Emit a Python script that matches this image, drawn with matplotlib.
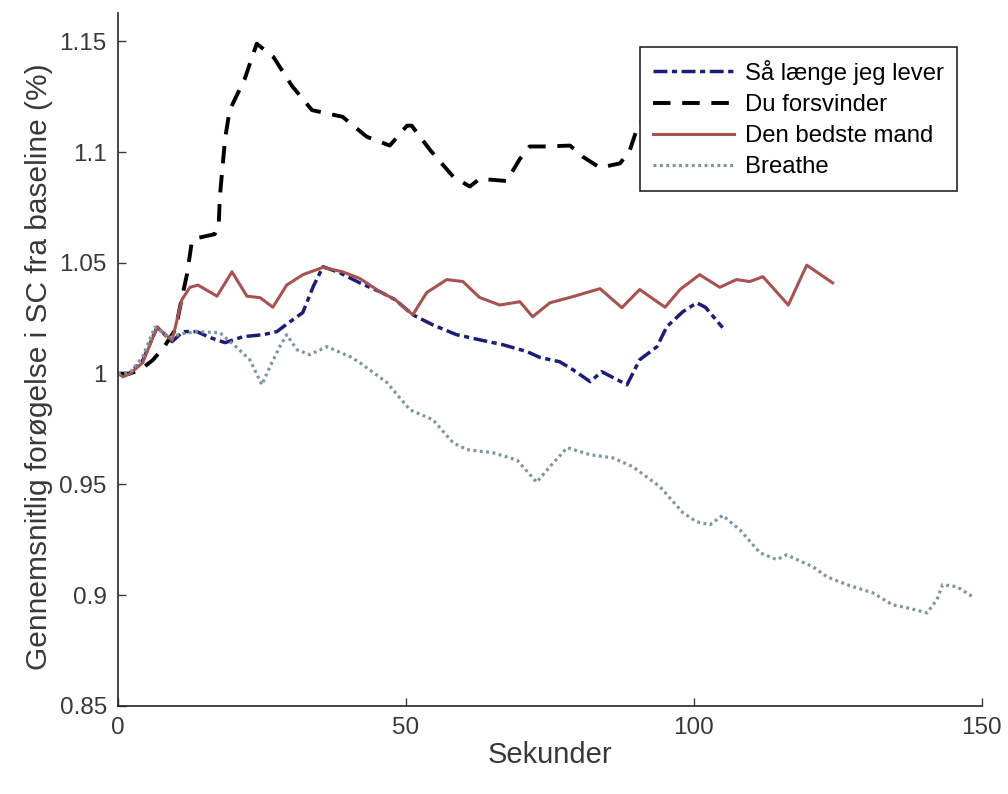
import matplotlib
matplotlib.use("Agg")
import matplotlib.pyplot as plt

plt.rcParams['font.family'] = ['Liberation Sans', 'DejaVu Sans']

# Så længe jeg lever
t_lever = [0, 2, 4.3, 6.8, 9.4, 11.3, 13.7, 16, 18.6, 21.7, 25.2, 27.6, 29.9, 32.1,
           33.9, 35.6, 38.5, 42, 45.5, 48.1, 51.2, 54.7, 58.8, 62.8, 66.8, 71,
           73.3, 76.7, 79, 82, 84, 88.4, 90.6, 93.6, 95.3, 98.1, 100.5, 102, 105]
v_lever = [1.0, 1.0, 1.006, 1.021, 1.0145, 1.019, 1.019, 1.0163, 1.014, 1.0167,
           1.0176, 1.019, 1.0235, 1.0276, 1.0393, 1.0483, 1.0456, 1.041, 1.037,
           1.0335, 1.0266, 1.022, 1.0176, 1.0153, 1.0131, 1.010, 1.0073, 1.0054,
           1.0018, 0.9964, 1.0009, 0.995, 1.0063, 1.0122, 1.0212, 1.028, 1.032,
           1.030, 1.0208]

# Du forsvinder
t_forsv = [0, 2, 4, 6, 8, 10, 11, 12, 12.8, 13.4, 16.8, 17.5, 17.7, 18.6, 19.4,
           22, 24.1, 27, 30.2, 33.7, 39, 43.2, 47.2, 50.2, 51, 54.2, 58.2, 61.1,
           62.8, 67.5, 69.8, 71.5, 74.5, 78.5, 80.7, 83.7, 87.2, 88.9, 90.3, 93,
           97, 102, 105]
v_forsv = [1.0, 1.0, 1.002, 1.006, 1.012, 1.02, 1.033, 1.045, 1.059, 1.061, 1.063,
           1.067, 1.08, 1.106, 1.119, 1.133, 1.149, 1.143, 1.130, 1.119, 1.116,
           1.107, 1.103, 1.112, 1.112, 1.101, 1.089, 1.0845, 1.088, 1.087, 1.097,
           1.1026, 1.1026, 1.103, 1.098, 1.093, 1.095, 1.101, 1.112, 1.12, 1.118,
           1.115, 1.113]

# Den bedste mand
t_mand = [0, 0.9, 2.1, 4.3, 6.8, 9.4, 11.1, 12.5, 13.9, 17.2, 19.8, 22.4, 24.7,
          26.9, 29.3, 32.1, 35.6, 39, 42, 45.5, 48.1, 51.2, 53.6, 57.1, 59.9,
          62.8, 66.3, 69.8, 72, 75, 79, 83.7, 87.5, 90.6, 95, 97.6, 101, 104.5,
          107.4, 109.7, 112, 116.4, 119.6, 124.1]
v_mand = [1.0, 0.9986, 1.0, 1.005, 1.021, 1.015, 1.0334, 1.039, 1.040, 1.035,
          1.046, 1.035, 1.0343, 1.030, 1.040, 1.0447, 1.048, 1.046, 1.043, 1.037,
          1.0335, 1.0266, 1.0366, 1.0425, 1.0416, 1.0344, 1.031, 1.0325, 1.0257,
          1.032, 1.0348, 1.0384, 1.0298, 1.038, 1.030, 1.038, 1.0447, 1.039,
          1.0425, 1.0416, 1.0438, 1.031, 1.049, 1.041]

# Breathe
t_breathe = [0, 2.1, 4.3, 6.4, 9, 11, 13.7, 17.7, 20.7, 22.9, 25, 26.4, 28.1, 29.3,
             31.1, 33.3, 36.3, 40.3, 42, 46.7, 50.7, 54.7, 58.2, 60.6, 65.1, 69.3,
             72.7, 75, 78, 82, 85.9, 89.4, 94.1, 98.1, 100.5, 102.8, 105, 108,
             111.5, 114.4, 116.1, 120.7, 123.1, 126.6, 131.1, 134.5, 137, 140.5,
             142.2, 143.2, 145.7, 148.4]
v_breathe = [1.0, 1.0005, 1.0077, 1.021, 1.0163, 1.018, 1.019, 1.0185, 1.0117,
             1.0063, 0.995, 1.0032, 1.0122, 1.0176, 1.0108, 1.0086, 1.0122, 1.0077,
             1.005, 0.996, 0.9837, 0.9792, 0.9688, 0.9657, 0.9643, 0.961, 0.951,
             0.958, 0.9666, 0.9634, 0.962, 0.958, 0.949, 0.9372, 0.9331, 0.9318,
             0.936, 0.9295, 0.9191, 0.916, 0.9182, 0.9128, 0.9083, 0.9047, 0.901,
             0.8956, 0.8943, 0.892, 0.8979, 0.9047, 0.9038, 0.8993]

labels = ["Så længe jeg lever", "Du forsvinder", "Den bedste mand", "Breathe"]
x_ticks = [0, 50, 100, 150]
y_ticks = [0.85, 0.9, 0.95, 1, 1.05, 1.1, 1.15]
y_ticklabels = ["0.85", "0.9", "0.95", "1", "1.05", "1.1", "1.15"]

fig = plt.figure(figsize=(10.08, 7.94), dpi=100)
ax = fig.add_axes([0.117, 0.111, 0.857, 0.873])

ax.plot(t_lever, v_lever, color="#1c1c7a", lw=2.5, dashes=(4, 1.3, 1.5, 1.3), label=labels[0])
ax.plot(t_forsv, v_forsv, color="black", lw=2.8, dashes=(4.5, 3), label=labels[1])
ax.plot(t_mand, v_mand, color="#a8524f", lw=2.2, label=labels[2])
ax.plot(t_breathe, v_breathe, color="#7b96a0", lw=2.3, dashes=(0.9, 1.1), label=labels[3])

ax.set_xlim(0, 150)
ax.set_ylim(0.85, 1.163)
ax.set_xticks(x_ticks)
ax.set_xticklabels([str(v) for v in x_ticks])
ax.set_yticks(y_ticks)
ax.set_yticklabels(y_ticklabels)
ax.tick_params(direction="in", length=6, width=1, labelsize=17.5, colors="#383838", pad=8)
for s in ["top", "right"]:
    ax.spines[s].set_visible(False)
for s in ["left", "bottom"]:
    ax.spines[s].set_color("#262626")
    ax.spines[s].set_linewidth(1.2)

ax.set_xlabel("Sekunder", fontsize=21, color="#383838")
ax.set_ylabel("Gennemsnitlig forøgelse i SC fra baseline (%)", fontsize=21.5, color="#383838")
ax.xaxis.set_label_coords(0.5, -0.05)
ax.yaxis.set_label_coords(-0.075, 0.49)

leg = ax.legend(loc="upper left", bbox_to_anchor=(0.604, 0.951), fontsize=17.2,
                handlelength=3.4, handletextpad=0.45, borderpad=0.55, labelspacing=0.38,
                borderaxespad=0, frameon=True, fancybox=False, framealpha=1,
                edgecolor="#262626")
leg.get_frame().set_linewidth(1.2)

fig.savefig("out.png", dpi=100)
